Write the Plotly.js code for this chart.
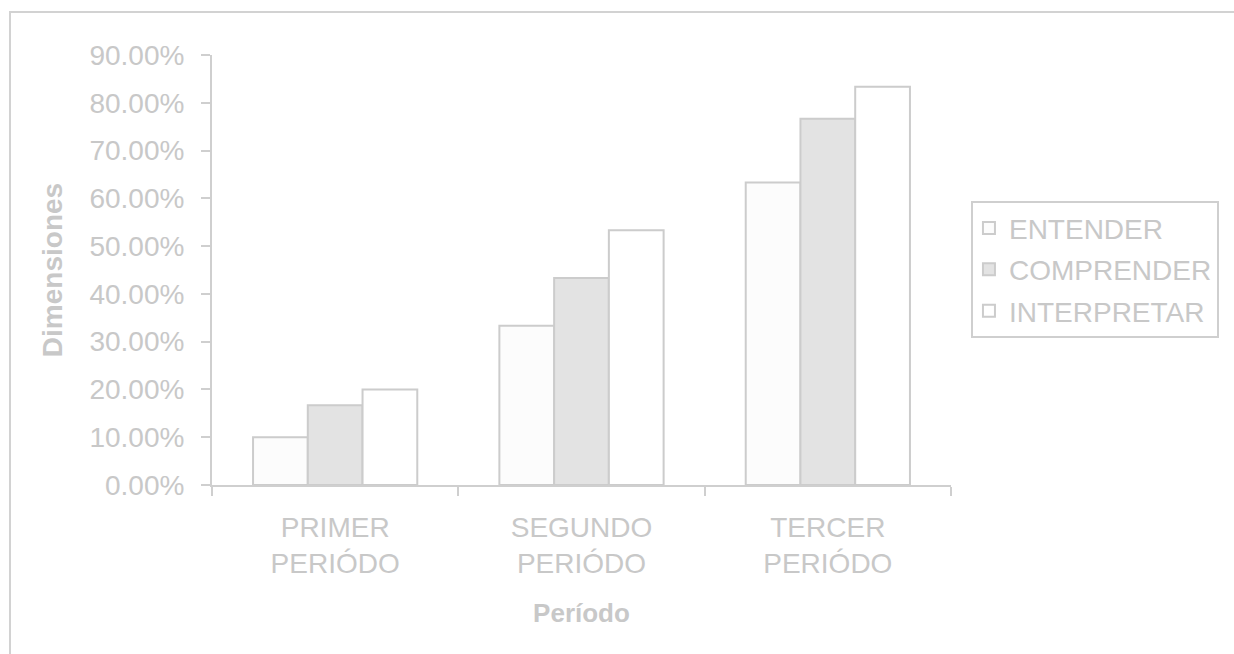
<!DOCTYPE html>
<html>
<head>
<meta charset="utf-8">
<script src="https://cdn.plot.ly/plotly-3.0.1.min.js"></script>
<style>
  html, body { margin: 0; padding: 0; background: #ffffff; }
  #frame {
    position: absolute; left: 9px; top: 11px; width: 1240px; height: 660px;
    border-left: 2px solid #d2d2d2; border-top: 2px solid #d2d2d2;
    pointer-events: none; z-index: 2;
  }
  #chart { width: 1234px; height: 654px; }
</style>
</head>
<body>
<div id="frame"></div>
<div id="chart"></div>
<script>
// Periods (x categories) and the three dimensions measured in each one
const periodos = ['PRIMER<br>PERIÓDO', 'SEGUNDO<br>PERIÓDO', 'TERCER<br>PERIÓDO'];
const entender = [0.10, 0.3333, 0.6333];
const comprender = [0.1667, 0.4333, 0.7667];
const interpretar = [0.20, 0.5333, 0.8333];

const serieNombres = ['ENTENDER', 'COMPRENDER', 'INTERPRETAR'];
const serieColores = ['#fcfcfc', '#e3e3e3', '#ffffff'];

const textColor = '#c8c8c8';
const lineColor = '#cfcfcf';
const fontFamily = '"Liberation Sans", Arial, sans-serif';

const valores = [entender, comprender, interpretar];
const traces = valores.map((v, i) => ({
  type: 'bar',
  name: serieNombres[i],
  x: periodos,
  y: v,
  legendgroup: 'g' + i,
  marker: { color: serieColores[i], line: { color: '#cccccc', width: 2 } },
  hoverinfo: 'skip'
}));

const layout = {
  width: 1234,
  height: 654,
  margin: { l: 212, r: 283, t: 55, b: 169, pad: 0 },
  paper_bgcolor: '#ffffff',
  plot_bgcolor: '#ffffff',
  font: { family: fontFamily, size: 28, color: textColor },
  barmode: 'group',
  bargap: 0.3333,
  bargroupgap: 0,
  showlegend: true,
  legend: {
    x: 1.027, xanchor: 'left',
    y: 0.66, yanchor: 'top',
    bordercolor: lineColor, borderwidth: 2,
    bgcolor: '#ffffff',
    font: { family: fontFamily, size: 28, color: textColor },
    tracegroupgap: 2,
    indentation: -4,
    itemclick: false
  },
  xaxis: {
    showgrid: false,
    zeroline: false,
    showline: true, linecolor: lineColor, linewidth: 2,
    ticks: 'outside', tickson: 'boundaries', ticklen: 9, tickwidth: 2, tickcolor: lineColor,
    tickfont: { family: fontFamily, size: 28, color: textColor },
    ticklabelstandoff: 16,
    title: { text: '<b>Período</b>', font: { family: fontFamily, size: 26, color: textColor }, standoff: 26 },
    automargin: false
  },
  yaxis: {
    range: [0, 0.9],
    dtick: 0.1,
    tickformat: '.2%',
    showgrid: false,
    zeroline: false,
    showline: true, linecolor: lineColor, linewidth: 2,
    ticks: 'outside', ticklen: 9, tickwidth: 2, tickcolor: lineColor,
    tickfont: { family: fontFamily, size: 28, color: textColor },
    ticklabelstandoff: 11,
    title: { text: '<b>Dimensiones</b>', font: { family: fontFamily, size: 28, color: textColor }, standoff: 19 },
    automargin: false
  }
};

Plotly.newPlot('chart', traces, layout, { displayModeBar: false, staticPlot: true });
</script>
</body>
</html>
